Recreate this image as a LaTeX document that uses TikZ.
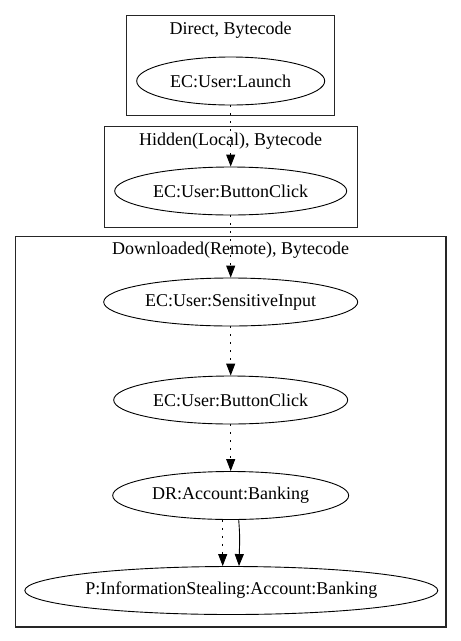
\documentclass[tikz,border=0pt]{standalone}
\usepackage{fontspec}
\setmainfont{Liberation Serif}
\usetikzlibrary{arrows.meta,shapes.geometric,calc}
\begin{document}
\begin{tikzpicture}[x=1pt,y=-1pt,
  every node/.style={font=\fontsize{18}{20}\selectfont},
  cluster/.style={draw=black!85,rectangle,inner sep=0pt,line width=1.1pt},
  ell/.style={draw,ellipse,inner sep=0pt,minimum height=48pt,line width=0.9pt},
  lbl/.style={inner sep=0pt},
  tip/.style={-{Triangle[length=12pt,width=9pt]}},
  dotedge/.style={tip,line width=0.9pt,dash pattern=on 2pt off 6pt},
  solidedge/.style={tip,line width=0.9pt}]
\useasboundingbox (0,0) rectangle (461,641);
% clusters
\node[cluster,minimum width=207.6pt,minimum height=100pt] (c1) at (230.5,65.7) {};
\node[lbl] (l1) at (230.7,30) {Direct, Bytecode};
\node[cluster,minimum width=253.3pt,minimum height=101.3pt] (c2) at (230.7,176.7) {};
\node[lbl] (l2) at (230.7,141.5) {Hidden(Local), Bytecode};
\node[cluster,minimum width=430.3pt,minimum height=390.3pt] (c3) at (230.8,431.8) {};
\node[lbl] (l3) at (230.7,250) {Downloaded(Remote), Bytecode};
% nodes
\node[ell,minimum width=188pt] (launch) at (230.7,81) {EC:User:Launch};
\node[ell,minimum width=232pt] (bc1) at (230.7,191) {EC:User:ButtonClick};
\node[ell,minimum width=254pt] (si) at (230.7,302) {EC:User:SensitiveInput};
\node[ell,minimum width=234pt] (bc2) at (230.7,400) {EC:User:ButtonClick};
\node[ell,minimum width=236pt] (dr) at (230.7,495.5) {DR:Account:Banking};
\node[ell,minimum width=413pt] (p) at (231.3,590.5) {P:InformationStealing:Account:Banking};
% edges
\draw[dotedge] (launch) -- (bc1);
\draw[dotedge] (bc1) -- (si);
\draw[dotedge] (si) -- (bc2);
\draw[dotedge] (bc2) -- (dr);
\draw[dotedge] ($(dr.south)+(-8,0)$) -- ($(p.north)+(-8.6,0)$);
\draw[solidedge] ($(dr.south)+(8,-0.3)$) .. controls ($(dr.south)+(9.5,20)$) and ($(p.north)+(8.3,-25)$) .. ($(p.north)+(7.7,0)$);
\end{tikzpicture}
\end{document}
